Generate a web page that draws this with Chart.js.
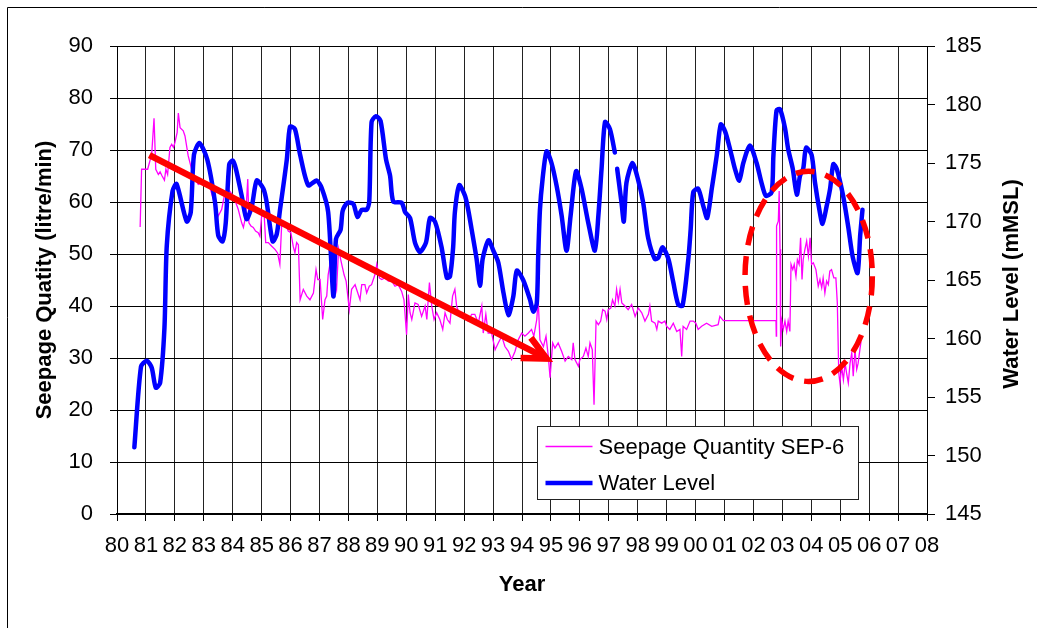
<!DOCTYPE html>
<html>
<head>
<meta charset="utf-8">
<title>Seepage Quantity SEP-6 and Water Level</title>
<script src="https://cdn.jsdelivr.net/npm/chart.js@4.4.1/dist/chart.umd.min.js"></script>
<style>
  html, body { margin: 0; padding: 0; background: #fff; }
  #wrap { position: relative; width: 1037px; height: 628px; }
</style>
</head>
<body>
<div id="wrap"><canvas id="out" width="1037" height="628"></canvas></div>
<script>
// year labels on the x axis, 1980 .. 2008
const yearLabels = ["80", "81", "82", "83", "84", "85", "86", "87", "88", "89",
    "90", "91", "92", "93", "94", "95", "96", "97", "98", "99",
    "00", "01", "02", "03", "04", "05", "06", "07", "08"];

// Water Level (mMSL), right axis
const levelYears = [1980.60, 1980.83, 1981.03, 1981.20, 1981.34, 1981.49, 1981.64, 1981.72, 1981.92, 1982.06,
    1982.41, 1982.55, 1982.66, 1982.85, 1983.12, 1983.39, 1983.50, 1983.65, 1983.76, 1983.88,
    1984.00, 1984.11, 1984.31, 1984.48, 1984.66, 1984.83, 1985.06, 1985.17, 1985.38, 1985.52,
    1985.63, 1985.87, 1985.98, 1986.15, 1986.33, 1986.61, 1986.90, 1987.07, 1987.30, 1987.48,
    1987.57, 1987.73, 1987.80, 1987.96, 1988.17, 1988.31, 1988.46, 1988.63, 1988.72, 1988.80,
    1988.95, 1989.11, 1989.30, 1989.44, 1989.55, 1989.84, 1989.96, 1990.13, 1990.30, 1990.47,
    1990.68, 1990.82, 1990.99, 1991.22, 1991.40, 1991.51, 1991.62, 1991.68, 1991.83, 1992.03,
    1992.14, 1992.26, 1992.43, 1992.55, 1992.64, 1992.84, 1993.01, 1993.18, 1993.36, 1993.53,
    1993.70, 1993.82, 1994.04, 1994.28, 1994.39, 1994.51, 1994.56, 1994.62, 1994.71, 1994.85,
    1995.02, 1995.20, 1995.37, 1995.54, 1995.68, 1995.87, 1996.06, 1996.29, 1996.52, 1996.64,
    1996.75, 1996.87, 1997.04, 1997.21, 1997.25, 1997.29, 1997.44, 1997.52, 1997.61, 1997.82,
    1998.01, 1998.19, 1998.36, 1998.59, 1998.71, 1998.86, 1999.06, 1999.23, 1999.40, 1999.55,
    1999.75, 1999.83, 1999.92, 2000.09, 2000.27, 2000.40, 2000.56, 2000.73, 2000.87, 2001.02,
    2001.19, 2001.36, 2001.51, 2001.65, 2001.88, 2002.11, 2002.28, 2002.43, 2002.63, 2002.69,
    2002.80, 2002.92, 2003.09, 2003.20, 2003.36, 2003.50, 2003.61, 2003.72, 2003.82, 2004.01,
    2004.13, 2004.28, 2004.39, 2004.53, 2004.65, 2004.76, 2004.88, 2005.10, 2005.28, 2005.43,
    2005.60, 2005.69, 2005.77];
const levelValues = [150.7, 157.6, 158.1, 157.5, 155.8, 156.2, 160.9, 167.9, 172.6, 173.2,
    170.0, 170.8, 175.7, 176.7, 175.3, 171.6, 168.8, 168.3, 169.9, 174.9,
    175.2, 174.5, 172.2, 170.2, 171.3, 173.5, 172.8, 171.7, 168.3, 168.9,
    170.9, 175.3, 178.1, 177.9, 175.7, 173.1, 173.5, 172.9, 170.8, 163.6,
    168.5, 169.3, 170.9, 171.6, 171.5, 170.4, 171.0, 171.0, 171.7, 178.5,
    179.0, 178.6, 175.3, 173.9, 171.7, 171.6, 170.8, 170.3, 168.2, 167.4,
    168.2, 170.3, 170.0, 167.8, 165.2, 165.3, 167.8, 170.8, 173.1, 172.2,
    171.0, 169.3, 166.8, 164.5, 166.8, 168.4, 167.5, 166.5, 163.9, 162.0,
    163.6, 165.8, 165.0, 163.3, 162.3, 163.0, 167.0, 171.0, 173.6, 176.0,
    175.0, 173.0, 170.5, 167.5, 170.5, 174.3, 172.8, 169.9, 167.5, 170.5,
    174.5, 178.5, 177.9, 175.9, null, 174.5, 171.6, 170.0, 173.3, 175.0,
    173.6, 171.6, 168.6, 166.8, 166.9, 167.8, 166.8, 164.8, 162.9, 162.8,
    166.8, 169.3, 172.5, 172.8, 171.3, 170.3, 172.8, 175.6, 178.3, 177.7,
    176.2, 174.5, 173.5, 175.0, 176.5, 175.0, 173.3, 172.2, 172.5, 175.6,
    179.5, 179.6, 178.0, 176.2, 174.5, 172.3, 173.9, 174.5, 176.3, 175.7,
    173.3, 171.0, 169.8, 171.3, 172.8, 174.9, 174.5, 172.2, 169.5, 167.0,
    165.6, 168.8, 171.0];

// Seepage Quantity SEP-6 (litre/min), left axis
const seepYears = [1980.80, 1980.85, 1981.06, 1981.20, 1981.28, 1981.34, 1981.43, 1981.49, 1981.55, 1981.64,
    1981.69, 1981.75, 1981.83, 1981.89, 1981.95, 1982.00, 1982.08, 1982.12, 1982.18, 1982.29,
    1982.35, 1982.46, 1982.58, 1982.70, 1982.81, 1982.95, 1983.04, 1983.21, 1983.33, 1983.50,
    1983.62, 1983.73, 1983.85, 1984.02, 1984.19, 1984.31, 1984.37, 1984.45, 1984.52, 1984.56,
    1984.63, 1984.71, 1984.79, 1984.88, 1984.94, 1985.00, 1985.09, 1985.14, 1985.23, 1985.35,
    1985.46, 1985.55, 1985.63, 1985.69, 1985.81, 1985.92, 1986.01, 1986.09, 1986.15, 1986.21,
    1986.27, 1986.33, 1986.44, 1986.56, 1986.67, 1986.79, 1986.88, 1986.94, 1987.02, 1987.11,
    1987.19, 1987.25, 1987.30, 1987.36, 1987.48, 1987.59, 1987.66, 1987.75, 1987.85, 1987.92,
    1988.03, 1988.11, 1988.23, 1988.40, 1988.46, 1988.57, 1988.63, 1988.72, 1988.80, 1988.92,
    1988.98, 1989.07, 1989.15, 1989.26, 1989.38, 1989.50, 1989.61, 1989.72, 1989.84, 1989.92,
    1990.01, 1990.07, 1990.13, 1990.19, 1990.30, 1990.41, 1990.53, 1990.65, 1990.71, 1990.80,
    1990.88, 1990.96, 1991.05, 1991.16, 1991.26, 1991.34, 1991.42, 1991.51, 1991.60, 1991.68,
    1991.74, 1991.86, 1991.95, 1992.06, 1992.14, 1992.26, 1992.37, 1992.49, 1992.61, 1992.66,
    1992.75, 1992.83, 1992.95, 1993.07, 1993.18, 1993.30, 1993.41, 1993.53, 1993.64, 1993.76,
    1993.87, 1993.99, 1994.10, 1994.22, 1994.33, 1994.41, 1994.51, 1994.56, 1994.62, 1994.74,
    1994.83, 1994.91, 1994.97, 1995.06, 1995.14, 1995.25, 1995.37, 1995.49, 1995.60, 1995.72,
    1995.77, 1995.83, 1995.95, 1996.00, 1996.12, 1996.21, 1996.29, 1996.35, 1996.43, 1996.49,
    1996.56, 1996.64, 1996.72, 1996.79, 1996.87, 1996.93, 1996.98, 1997.07, 1997.13, 1997.21,
    1997.27, 1997.33, 1997.39, 1997.45, 1997.56, 1997.67, 1997.79, 1997.91, 1998.02, 1998.14,
    1998.25, 1998.37, 1998.42, 1998.48, 1998.60, 1998.66, 1998.71, 1998.83, 1998.94, 1999.00,
    1999.11, 1999.23, 1999.35, 1999.46, 1999.52, 1999.57, 1999.69, 1999.81, 1999.92, 2000.01,
    2000.09, 2000.21, 2000.38, 2000.56, 2000.78, 2000.84, 2000.96, 2002.78, 2002.79, 2002.80,
    2002.86, 2002.89, 2002.92, 2002.94, 2002.98, 2003.03, 2003.09, 2003.15, 2003.20, 2003.26,
    2003.30, 2003.36, 2003.41, 2003.47, 2003.52, 2003.58, 2003.63, 2003.68, 2003.72, 2003.78,
    2003.84, 2003.90, 2003.96, 2004.01, 2004.07, 2004.16, 2004.24, 2004.30, 2004.36, 2004.41,
    2004.47, 2004.53, 2004.59, 2004.64, 2004.70, 2004.78, 2004.85, 2004.90, 2004.95, 2004.99,
    2005.05, 2005.11, 2005.17, 2005.22, 2005.28, 2005.34, 2005.40, 2005.45, 2005.51, 2005.57,
    2005.62, 2005.68, 2005.72];
const seepValues = [55.2, 66.3, 66.3, 69.2, 76.1, 66.3, 65.3, 65.8, 65.1, 64.2,
    66.3, 65.3, 70.5, 71.1, 70.5, 71.4, 73.4, 77.1, 74.3, 73.7,
    72.7, 68.9, 66.3, 64.4, 63.4, 63.8, 63.1, 62.8, 60.5, 57.3,
    58.6, 61.8, 62.4, 61.2, 58.6, 56.0, 55.1, 57.3, 64.4, 56.0,
    55.4, 55.1, 54.4, 54.1, 53.4, 57.3, 57.3, 52.2, 52.2, 51.5,
    50.9, 50.2, 48.0, 55.4, 56.0, 54.4, 54.1, 51.5, 50.2, 52.2,
    51.8, 41.2, 43.2, 41.9, 41.2, 42.5, 47.0, 45.1, 45.1, 37.4,
    41.2, 41.9, 46.0, 48.0, 46.4, 43.2, 51.0, 48.5, 46.0, 44.8,
    39.3, 43.2, 44.1, 41.2, 44.1, 44.1, 42.5, 43.8, 44.1, 46.1,
    48.0, 45.4, 45.1, 45.4, 44.8, 44.8, 43.8, 44.1, 42.8, 41.2,
    34.5, 42.2, 38.7, 37.4, 40.6, 40.3, 38.0, 40.0, 37.4, 44.5,
    40.0, 37.4, 38.7, 37.4, 35.5, 38.7, 37.4, 36.7, 41.9, 43.2,
    40.0, 38.0, 38.7, 37.4, 37.1, 38.4, 38.4, 36.7, 40.0, 34.8,
    38.4, 34.8, 34.8, 31.6, 32.9, 34.2, 32.2, 31.3, 29.7, 31.3,
    33.5, 34.8, 34.2, 34.8, 35.5, 34.2, 37.4, 41.2, 33.5, 32.2,
    34.2, 30.3, 26.2, 32.9, 31.9, 32.9, 31.3, 29.4, 30.3, 29.7,
    32.9, 29.7, 28.4, 29.7, 30.3, 31.9, 30.3, 32.9, 31.6, 21.0,
    37.1, 36.4, 37.1, 39.3, 39.0, 37.4, 39.3, 39.6, 41.2, 40.0,
    43.2, 40.9, 43.2, 40.6, 40.0, 39.3, 40.3, 38.0, 39.6, 38.7,
    37.1, 38.4, 40.0, 37.1, 36.7, 35.5, 37.1, 36.7, 37.1, 36.1,
    35.5, 36.7, 35.1, 35.5, 30.3, 36.1, 35.5, 37.1, 37.1, 36.7,
    35.5, 36.1, 36.7, 36.1, 36.4, 38.0, 37.2, 37.2, 34.2, 55.4,
    56.3, 62.1, 50.9, 32.2, 37.1, 35.5, 37.1, 35.1, 37.1, 35.1,
    48.0, 47.0, 48.0, 45.7, 48.9, 48.0, 53.1, 45.1, 48.9, 50.9,
    52.5, 49.6, 53.1, 48.0, 48.3, 47.0, 43.8, 45.1, 43.5, 45.4,
    42.5, 44.8, 44.1, 46.7, 47.0, 45.4, 45.4, 40.6, 27.1, 25.2,
    28.4, 25.8, 29.0, 27.1, 25.2, 29.0, 31.0, 26.5, 31.6, 27.8,
    29.0, 31.6, 33.2];

// trend arrow and highlight ellipse, in data units (year, litre/min)
const trendStart = [1981.12, 69.0];
const trendEnd = [1994.85, 29.9];
const ringCentre = [2003.91, 45.7];
const ringRadius = [2.2, 20.2];

const leftTitle = "Seepage Quatity (litre/min)";
const rightTitle = "Water Level (mMSL)";
const FONT = "'Liberation Sans', Arial, sans-serif";

function toPoints(xs, ys) {
    return xs.map((x, i) => ({ x: x, y: ys[i] }));
}

const pagePlugin = {
    id: "page",
    beforeDraw(chart) {
        const ctx = chart.ctx;
        ctx.save();
        ctx.fillStyle = "#fff";
        ctx.fillRect(0, 0, chart.width, chart.height);
        ctx.strokeStyle = "#000";
        ctx.lineWidth = 1;
        ctx.beginPath();
        ctx.moveTo(7.5, chart.height);
        ctx.lineTo(7.5, 7.5);
        ctx.lineTo(chart.width, 7.5);
        ctx.stroke();
        ctx.restore();
    },
    afterDatasetsDraw(chart) {
        const ctx = chart.ctx;
        const x = chart.scales.x, y = chart.scales.y;
        const area = chart.chartArea;

        // dashed ring
        ctx.save();
        const cx = x.getPixelForValue(ringCentre[0]);
        const cy = y.getPixelForValue(ringCentre[1]);
        const rx = x.getPixelForValue(ringCentre[0] + ringRadius[0]) - cx;
        const ry = cy - y.getPixelForValue(ringCentre[1] + ringRadius[1]);
        ctx.strokeStyle = "#FF0000";
        ctx.lineWidth = 5.5;
        ctx.setLineDash([19, 11]);
        ctx.beginPath();
        ctx.ellipse(cx, cy, rx, ry, 0, 0, Math.PI * 2);
        ctx.stroke();
        ctx.restore();

        // trend arrow
        ctx.save();
        const x0 = x.getPixelForValue(trendStart[0]), y0 = y.getPixelForValue(trendStart[1]);
        const x1 = x.getPixelForValue(trendEnd[0]), y1 = y.getPixelForValue(trendEnd[1]);
        const ang = Math.atan2(y1 - y0, x1 - x0);
        ctx.strokeStyle = "#FF0000";
        ctx.lineWidth = 6.5;
        ctx.lineCap = "butt";
        ctx.beginPath();
        ctx.moveTo(x0, y0);
        ctx.lineTo(x1 - 4 * Math.cos(ang), y1 - 4 * Math.sin(ang));
        ctx.stroke();
        ctx.lineJoin = "miter";
        ctx.beginPath();
        ctx.moveTo(x1 - 26 * Math.cos(ang - 0.45), y1 - 26 * Math.sin(ang - 0.45));
        ctx.lineTo(x1, y1);
        ctx.lineTo(x1 - 26 * Math.cos(ang + 0.45), y1 - 26 * Math.sin(ang + 0.45));
        ctx.stroke();
        ctx.restore();

        // legend box
        ctx.save();
        const lx = 537.5, ly = 426.5, lw = 321, lh = 73;
        ctx.fillStyle = "#fff";
        ctx.fillRect(lx, ly, lw, lh);
        ctx.strokeStyle = "#222";
        ctx.lineWidth = 1;
        ctx.strokeRect(lx, ly, lw, lh);
        const items = [chart.data.datasets[1], chart.data.datasets[0]];
        items.forEach((ds, i) => {
            const rowY = ly + 20 + i * 36.5;
            ctx.strokeStyle = ds.borderColor;
            ctx.lineWidth = ds.borderWidth;
            ctx.beginPath();
            ctx.moveTo(lx + 8, rowY);
            ctx.lineTo(lx + 55, rowY);
            ctx.stroke();
            ctx.fillStyle = "#000";
            ctx.font = "22px " + FONT;
            ctx.textBaseline = "middle";
            ctx.textAlign = "left";
            ctx.fillText(ds.label, lx + 61, rowY + 1);
        });
        ctx.restore();

        // right axis title, reading bottom to top
        ctx.save();
        ctx.translate(1012, (area.top + area.bottom) / 2 + 4);
        ctx.rotate(-Math.PI / 2);
        ctx.font = "bold 22px " + FONT;
        ctx.fillStyle = "#000";
        ctx.textAlign = "center";
        ctx.textBaseline = "middle";
        ctx.fillText(rightTitle, 0, 0);
        ctx.restore();
    }
};

const tickFont = { family: FONT, size: 22 };
const titleFont = { family: FONT, size: 22, weight: "bold" };

const chartConfig = {
    type: "line",
    data: {
        datasets: [
            {
                label: "Water Level",
                data: toPoints(levelYears, levelValues),
                yAxisID: "y2",
                borderColor: "#0000FF",
                borderWidth: 4.5,
                borderJoinStyle: "round",
                borderCapStyle: "round",
                pointRadius: 0,
                tension: 0.25,
                spanGaps: false,
                order: 0
            },
            {
                label: "Seepage Quantity SEP-6",
                data: toPoints(seepYears, seepValues),
                yAxisID: "y",
                borderColor: "#FF00FF",
                borderWidth: 1.3,
                pointRadius: 0,
                tension: 0,
                order: 1
            }
        ]
    },
    options: {
        responsive: false,
        animation: false,
        devicePixelRatio: 1,
        layout: { padding: { top: 46, left: 0, right: 0, bottom: 0 } },
        plugins: { legend: { display: false }, tooltip: { enabled: false } },
        scales: {
            x: {
                type: "linear",
                min: 1980,
                max: 2008,
                ticks: {
                    stepSize: 1,
                    autoSkip: false,
                    maxRotation: 0,
                    minRotation: 0,
                    padding: 12,
                    color: "#000",
                    font: tickFont,
                    callback: (v, i) => yearLabels[i]
                },
                grid: { color: "#222", lineWidth: 1, tickLength: 7, tickColor: "#000" },
                border: { color: "#000", width: 2 },
                title: { display: true, text: "Year", color: "#000", font: titleFont, padding: { top: 0, bottom: 30 } },
                afterFit: (s) => { s.height = 114; }
            },
            y: {
                position: "left",
                min: 0,
                max: 90,
                ticks: { stepSize: 10, padding: 17, color: "#000", font: tickFont },
                grid: { color: "#000", lineWidth: 1, tickLength: 7, tickColor: "#000" },
                border: { color: "#000", width: 1 },
                title: { display: true, text: leftTitle, color: "#000", font: titleFont, padding: { top: 32, bottom: 0 } },
                afterFit: (s) => { s.width = 117; }
            },
            y2: {
                position: "right",
                min: 145,
                max: 185,
                ticks: { stepSize: 5, padding: 10, color: "#000", font: tickFont },
                grid: { drawOnChartArea: false, tickLength: 8, tickColor: "#000" },
                border: { color: "#000", width: 1 },
                afterFit: (s) => { s.width = 110; }
            }
        }
    },
    plugins: [pagePlugin]
};

const canvasCtx = document.getElementById("out").getContext("2d");
window.chart = new Chart(canvasCtx, chartConfig);
</script>
</body>
</html>
